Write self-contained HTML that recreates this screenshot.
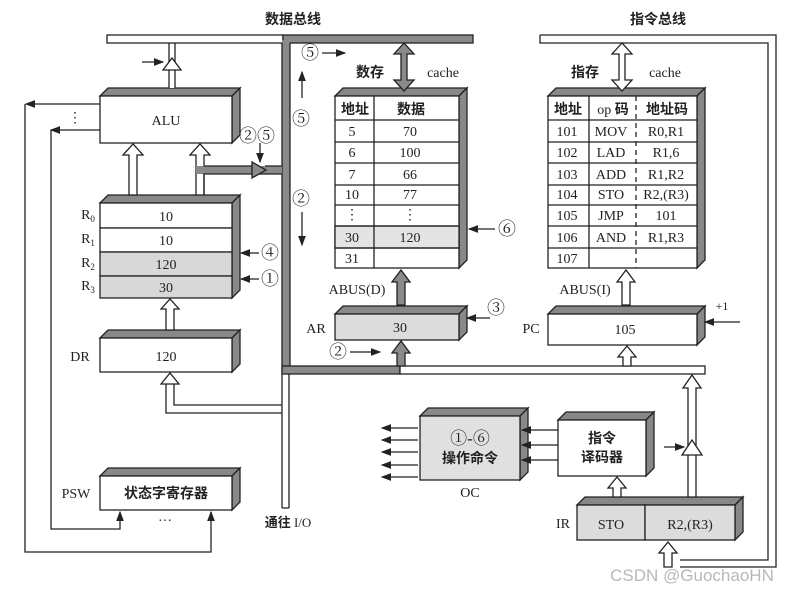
<!DOCTYPE html>
<html><head><meta charset="utf-8"><style>
html,body{margin:0;padding:0;background:#fff}
svg{display:block}
text{font-family:"Liberation Serif","Noto Serif CJK SC",serif;fill:#222}
.cj{font-family:"Liberation Serif","Noto Sans CJK SC",sans-serif;font-weight:bold}
.c{font-size:18px}
</style></head><body>
<svg width="797" height="592" viewBox="0 0 797 592" xmlns="http://www.w3.org/2000/svg">
<defs>
<marker id="ah" markerWidth="8" markerHeight="6" refX="7" refY="3" orient="auto"><path d="M0,0 L8,3 L0,6 z" fill="#222"/></marker>
</defs>
<g stroke="#222" stroke-width="1.3" fill="none">
<rect x="107" y="35" width="176" height="8" fill="#fff"/>
<rect x="283" y="35" width="190" height="8" fill="#8a8a8a"/>
<rect x="282" y="40" width="8" height="332" fill="#8a8a8a" stroke="none"/>
<line x1="282" y1="43" x2="282" y2="372"/><line x1="290" y1="43" x2="290" y2="366"/>
<rect x="282" y="366" width="118" height="8" fill="#8a8a8a"/>
<rect x="400" y="366" width="305" height="8" fill="#fff"/>
<line x1="282" y1="374" x2="282" y2="508"/><line x1="289" y1="374" x2="289" y2="508"/><line x1="282" y1="508" x2="289" y2="508"/>
<polyline points="540,35 776,35 776,567 680,567" />
<polyline points="540,35 540,43 768,43 768,560 680,560"/>
<polygon points="100,96 108,88 240,88 232,96" fill="#888"/>
<polygon points="232,96 240,88 240,135 232,143" fill="#888"/>
<rect x="100" y="96" width="132" height="47" fill="#fff"/>
<polygon points="100,203 108,195 240,195 232,203" fill="#888"/>
<polygon points="232,203 240,195 240,290 232,298" fill="#888"/>
<rect x="100" y="203" width="132" height="25" fill="#fff"/>
<rect x="100" y="228" width="132" height="24" fill="#fff"/>
<rect x="100" y="252" width="132" height="24" fill="#d8d8d8"/>
<rect x="100" y="276" width="132" height="22" fill="#d8d8d8"/>
<line x1="259" y1="253" x2="241" y2="253" marker-end="url(#ah)"/>
<line x1="259" y1="279" x2="241" y2="279" marker-end="url(#ah)"/>
<polygon points="100,338 108,330 240,330 232,338" fill="#888"/>
<polygon points="232,338 240,330 240,364 232,372" fill="#888"/>
<rect x="100" y="338" width="132" height="34" fill="#fff"/>
<polygon points="100,476 108,468 240,468 232,476" fill="#888"/>
<polygon points="232,476 240,468 240,502 232,510" fill="#888"/>
<rect x="100" y="476" width="132" height="34" fill="#fff"/>
<polygon points="169,88 169,70 164,70 172,58 180,70 175,70 175,88" fill="#fff" stroke="none"/>
<line x1="169" y1="43" x2="169" y2="88"/><line x1="175" y1="43" x2="175" y2="88"/>
<polygon points="163,70 172,58 181,70" fill="#fff"/>
<line x1="142" y1="62" x2="163" y2="62" marker-end="url(#ah)"/>
<polygon points="129,195 129,155 123,155 133,144 143,155 137,155 137,195" fill="#fff"/>
<polygon points="196,195 196,155 190,155 200,144 210,155 204,155 204,195" fill="#fff"/>
<rect x="196" y="166" width="86" height="8" fill="#8a8a8a" stroke="none"/>
<polyline points="204,195 204,174 282,174"/><polyline points="204,166 252,166"/><line x1="265" y1="166" x2="282" y2="166"/>
<polygon points="252,162 266,170 252,178" fill="#8a8a8a"/>
<line x1="260" y1="143" x2="260" y2="162" marker-end="url(#ah)"/>
<polygon points="166,330 166,309 161,309 170,299 179,309 174,309 174,330" fill="#fff"/>
<polygon points="161,384 170,373 179,384" fill="#fff"/>
<polyline points="174,384 174,405 282,405"/>
<polyline points="166,384 166,413 282,413"/>
<line x1="100" y1="104" x2="26" y2="104" marker-end="url(#ah)"/>
<line x1="100" y1="130" x2="51" y2="130" marker-end="url(#ah)"/>
<polyline points="25,104 25,552 211,552 211,512" marker-end="url(#ah)"/>
<polyline points="51,130 51,529 120,529 120,512" marker-end="url(#ah)"/>
<polygon points="335,96 343,88 467,88 459,96" fill="#888"/>
<polygon points="459,96 467,88 467,260 459,268" fill="#888"/>
<rect x="335" y="96" width="124" height="172" fill="#fff"/>
<rect x="335" y="226" width="124" height="22" fill="#e4e4e4"/>
<line x1="335" y1="120" x2="459" y2="120"/><line x1="335" y1="142" x2="459" y2="142"/><line x1="335" y1="163" x2="459" y2="163"/><line x1="335" y1="185" x2="459" y2="185"/><line x1="335" y1="205" x2="459" y2="205"/><line x1="335" y1="226" x2="459" y2="226"/><line x1="335" y1="248" x2="459" y2="248"/>
<line x1="374" y1="96" x2="374" y2="268"/>
<polygon points="404,43 394,54 401,54 401,80 394,80 404,91 414,80 407,80 407,54 414,54" fill="#8a8a8a"/>
<line x1="322" y1="53" x2="345" y2="53" marker-end="url(#ah)"/>
<line x1="302" y1="98" x2="302" y2="72" marker-end="url(#ah)"/>
<line x1="302" y1="212" x2="302" y2="245" marker-end="url(#ah)"/>
<line x1="495" y1="229" x2="469" y2="229" marker-end="url(#ah)"/>
<polygon points="397,305 397,282 392,282 401,270 410,282 405,282 405,305" fill="#8a8a8a"/>
<polygon points="335,314 343,306 467,306 459,314" fill="#888"/>
<polygon points="459,314 467,306 467,332 459,340" fill="#888"/>
<rect x="335" y="314" width="124" height="26" fill="#dcdcdc"/>
<line x1="490" y1="318" x2="467" y2="318" marker-end="url(#ah)"/>
<line x1="350" y1="352" x2="380" y2="352" marker-end="url(#ah)"/>
<polygon points="397,366 397,353 392,353 401,341 410,353 405,353 405,366" fill="#8a8a8a"/>
<polygon points="548,96 556,88 705,88 697,96" fill="#888"/>
<polygon points="697,96 705,88 705,260 697,268" fill="#888"/>
<rect x="548" y="96" width="149" height="172" fill="#fff"/>
<line x1="548" y1="120" x2="697" y2="120"/><line x1="548" y1="142" x2="697" y2="142"/><line x1="548" y1="163" x2="697" y2="163"/><line x1="548" y1="185" x2="697" y2="185"/><line x1="548" y1="205" x2="697" y2="205"/><line x1="548" y1="226" x2="697" y2="226"/><line x1="548" y1="248" x2="697" y2="248"/>
<line x1="589" y1="96" x2="589" y2="268"/>
<line x1="636" y1="96" x2="636" y2="268" stroke-dasharray="5,4"/>
<polygon points="622,43 612,54 619,54 619,80 612,80 622,91 632,80 625,80 625,54 632,54" fill="#fff"/>
<polygon points="622,305 622,282 617,282 626,270 635,282 630,282 630,305" fill="#fff"/>
<polygon points="548,314 556,306 705,306 697,314" fill="#888"/>
<polygon points="697,314 705,306 705,337 697,345" fill="#888"/>
<rect x="548" y="314" width="149" height="31" fill="#fff"/>
<line x1="740" y1="322" x2="705" y2="322" marker-end="url(#ah)"/>
<polygon points="623,366 623,357 618,357 627,346 636,357 631,357 631,366" fill="#fff"/>
<polygon points="420,416 428,408 528,408 520,416" fill="#888"/>
<polygon points="520,416 528,408 528,472 520,480" fill="#888"/>
<rect x="420" y="416" width="100" height="64" fill="#e0e0e0"/>
<line x1="418" y1="428" x2="382" y2="428" marker-end="url(#ah)"/>
<line x1="418" y1="440" x2="382" y2="440" marker-end="url(#ah)"/>
<line x1="418" y1="452" x2="382" y2="452" marker-end="url(#ah)"/>
<line x1="418" y1="465" x2="382" y2="465" marker-end="url(#ah)"/>
<line x1="418" y1="477" x2="382" y2="477" marker-end="url(#ah)"/>
<polygon points="558,420 566,412 654,412 646,420" fill="#888"/>
<polygon points="646,420 654,412 654,468 646,476" fill="#888"/>
<rect x="558" y="420" width="88" height="56" fill="#fff"/>
<line x1="558" y1="430" x2="522" y2="430" marker-end="url(#ah)"/>
<line x1="558" y1="445" x2="522" y2="445" marker-end="url(#ah)"/>
<line x1="558" y1="460" x2="522" y2="460" marker-end="url(#ah)"/>
<polygon points="577,505 585,497 743,497 735,505" fill="#888"/>
<polygon points="735,505 743,497 743,532 735,540" fill="#888"/>
<rect x="577" y="505" width="68" height="35" fill="#dcdcdc"/>
<rect x="645" y="505" width="90" height="35" fill="#dcdcdc"/>
<polygon points="613,497 613,488 608,488 617,477 626,488 621,488 621,497" fill="#fff"/>
<polygon points="688,497 688,388 683,388 692,375 701,388 696,388 696,497" fill="#fff"/>
<polygon points="682,455 692,440 702,455" fill="#fff"/>
<line x1="664" y1="447" x2="684" y2="447" marker-end="url(#ah)"/>
<polygon points="664,560 664,553 659,553 668,542 677,553 672,553 672,567 664,567" fill="#fff"/>
</g>
<g font-size="14" text-anchor="middle">
<text x="293" y="24" class="cj" font-size="14">数据总线</text>
<text x="658" y="24" class="cj" font-size="14">指令总线</text>
<text x="166" y="125">ALU</text>
<text x="75" y="122">⋮</text>
<text x="166" y="221">10</text><text x="166" y="245">10</text><text x="166" y="269">120</text><text x="166" y="292">30</text>
<text x="88" y="219">R<tspan font-size="9" dy="3">0</tspan></text>
<text x="88" y="243">R<tspan font-size="9" dy="3">1</tspan></text>
<text x="88" y="267">R<tspan font-size="9" dy="3">2</tspan></text>
<text x="88" y="290">R<tspan font-size="9" dy="3">3</tspan></text>
<text x="257" y="142" class="c">②⑤</text>
<text x="301" y="125" class="c">⑤</text>
<text x="301" y="205" class="c">②</text>
<text x="310" y="59" class="c">⑤</text>
<text x="270" y="259" class="c">④</text>
<text x="270" y="285" class="c">①</text>
<text x="166" y="361">120</text>
<text x="80" y="361">DR</text>
<text x="166" y="498" class="cj">状态字寄存器</text>
<text x="76" y="498">PSW</text>
<text x="165" y="525">···</text>
<text x="288" y="527" class="cj" font-size="13">通往 <tspan font-weight="normal">I/O</tspan></text>
<text x="370" y="77" class="cj">数存</text>
<text x="443" y="77">cache</text>
<text x="355" y="114" class="cj">地址</text><text x="411" y="114" class="cj">数据</text>
<text x="352" y="136">5</text><text x="410" y="136">70</text>
<text x="352" y="157">6</text><text x="410" y="157">100</text>
<text x="352" y="179">7</text><text x="410" y="179">66</text>
<text x="352" y="199">10</text><text x="410" y="199">77</text>
<text x="352" y="219">⋮</text><text x="410" y="219">⋮</text>
<text x="352" y="242">30</text><text x="410" y="242">120</text>
<text x="352" y="263">31</text>
<text x="507" y="235" class="c">⑥</text>
<text x="357" y="294">ABUS(D)</text>
<text x="316" y="333">AR</text>
<text x="400" y="332">30</text>
<text x="496" y="314" class="c">③</text>
<text x="338" y="358" class="c">②</text>
<text x="585" y="77" class="cj">指存</text>
<text x="665" y="77">cache</text>
<text x="568" y="114" class="cj">地址</text><text x="613" y="114"><tspan>op</tspan><tspan class="cj"> 码</tspan></text><text x="667" y="114" class="cj">地址码</text>
<text x="567" y="136">101</text><text x="611" y="136">MOV</text><text x="666" y="136">R0,R1</text>
<text x="567" y="157">102</text><text x="611" y="157">LAD</text><text x="666" y="157">R1,6</text>
<text x="567" y="179">103</text><text x="611" y="179">ADD</text><text x="666" y="179">R1,R2</text>
<text x="567" y="199">104</text><text x="611" y="199">STO</text><text x="666" y="199">R2,(R3)</text>
<text x="567" y="220">105</text><text x="611" y="220">JMP</text><text x="666" y="220">101</text>
<text x="567" y="242">106</text><text x="611" y="242">AND</text><text x="666" y="242">R1,R3</text>
<text x="567" y="263">107</text>
<text x="585" y="294">ABUS(I)</text>
<text x="531" y="333">PC</text>
<text x="625" y="334">105</text>
<text x="722" y="310" font-size="12">+1</text>
<text x="470" y="444" font-size="17">①-⑥</text>
<text x="470" y="463" class="cj">操作命令</text>
<text x="470" y="497">OC</text>
<text x="602" y="443" class="cj">指令</text>
<text x="602" y="462" class="cj">译码器</text>
<text x="563" y="528">IR</text>
<text x="611" y="529">STO</text>
<text x="690" y="529">R2,(R3)</text>
<text x="692" y="581" font-size="17" style="fill:#b8b8b8;font-family:'Liberation Sans',sans-serif">CSDN @GuochaoHN</text>
</g>
</svg>
</body></html>
